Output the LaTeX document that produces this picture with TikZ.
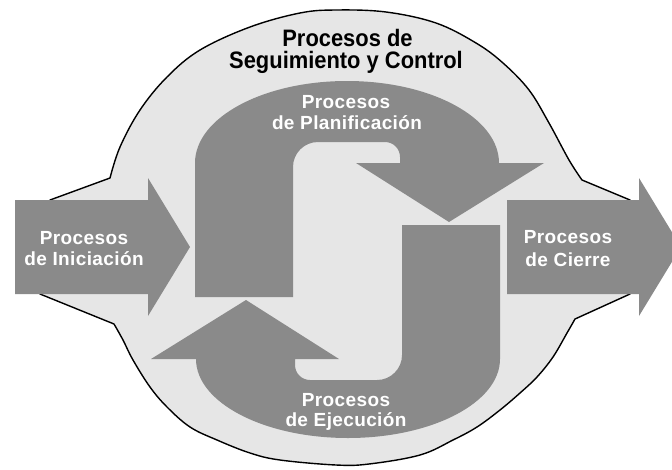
\documentclass[tikz,border=0pt]{standalone}
\usepackage{fontspec}
\setmainfont{Liberation Sans}
\newfontfamily\topfont[FakeStretch=0.92]{Liberation Sans}
\newfontfamily\wfont[LetterSpace=2]{Liberation Sans}
\definecolor{darkg}{HTML}{8A8A8A}
\definecolor{lightg}{HTML}{E6E6E6}
\begin{document}
\begin{tikzpicture}[x=1pt,y=1pt,
  band/.style={fill=darkg,draw=none},
  blob/.style={fill=lightg,draw=black,line width=1.4pt,line join=round},
  wlabel/.style={text=white,font=\wfont\bfseries\fontsize{19}{21}\selectfont,inner sep=0pt,anchor=base},
  blabel/.style={text=black,font=\topfont\bfseries\fontsize{23.8}{21.5}\selectfont,inner sep=0pt,anchor=base}]
\useasboundingbox (0,0) rectangle (672,-469);
\clip (0,0) rectangle (672,-469);
\fill[white] (0,0) rectangle (672,-469);
% monitoring & control blob
\draw[blob] (50,-200)
  -- plot[smooth,tension=0.6] coordinates{(110,-178) (120,-147) (140,-110) (167,-77) (200,-50) (250,-27) (300,-13) (336,-10) (386,-12) (436,-23) (476,-43) (503,-63) (529,-90) (549,-123) (569,-160) (582,-180)}
  -- (630,-200) -- (630,-294)
  -- plot[smooth,tension=0.6] coordinates{(575,-319) (567,-333) (553,-357) (537,-377) (520,-393) (500,-410) (477,-427) (453,-440) (420,-455) (369,-464) (336,-465) (280,-460) (250,-453) (217,-440) (190,-427) (167,-407) (150,-387) (133,-360) (123,-340) (114,-324)}
  -- (40,-294) -- cycle;
% planning arrow
\path[band] (195,-297) -- (195,-163)
  arc[start angle=180,end angle=0,x radius=152,y radius=82]
  -- (544,-163) -- (449,-222) -- (356,-163) -- (400,-163) -- (400,-157)
  arc[start angle=0,end angle=90,radius=15]
  -- (318,-142)
  arc[start angle=90,end angle=180,radius=25]
  -- (293,-297) -- cycle;
% execution arrow
\path[band] (500,-225) -- (500,-359)
  arc[start angle=0,end angle=-180,x radius=152,y radius=79]
  -- (151,-359) -- (246,-300) -- (339,-359) -- (295,-359) -- (295,-365)
  arc[start angle=180,end angle=270,radius=15]
  -- (377,-380)
  arc[start angle=270,end angle=360,radius=25]
  -- (402,-225) -- cycle;
% initiation arrow
\path[band] (15,-200) -- (148,-200) -- (148,-178) -- (190,-247) -- (148,-316) -- (148,-294) -- (15,-294) -- cycle;
% closing arrow
\path[band] (507,-200) -- (639,-200) -- (639,-178) -- (681,-247) -- (639,-316) -- (639,-294) -- (507,-294) -- cycle;
% labels
\node[blabel,text depth=0pt] (seg1) at (347.5,-46.7) {Procesos de};
\node[blabel,text height=17pt] (seg2) at (346,-68) {Seguimiento y Control};
\node[wlabel] (pla1) at (346,-108.3) {Procesos};
\node[wlabel] (pla2) at (347,-129.3) {de Planificación};
\node[wlabel] (eje1) at (346,-406) {Procesos};
\node[wlabel] (eje2) at (346,-426.7) {de Ejecución};
\node[wlabel] (ini1) at (84,-244) {Procesos};
\node[wlabel] (ini2) at (84,-265.7) {de Iniciación};
\node[wlabel] (cie1) at (568,-243.3) {Procesos};
\node[wlabel] (cie2) at (568,-266) {de Cierre};
\end{tikzpicture}
\end{document}
